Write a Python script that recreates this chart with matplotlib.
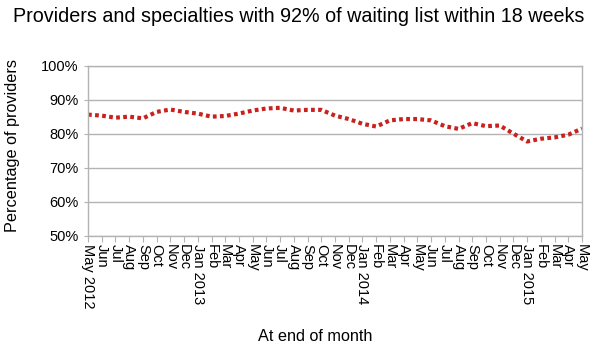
import numpy as np
import matplotlib
matplotlib.use('Agg')
import matplotlib.pyplot as plt
from matplotlib.ticker import FuncFormatter

plt.rcParams['font.family'] = ['Liberation Sans', 'DejaVu Sans']

# month labels, May 2012 .. May 2015
months = ['May 2012', 'Jun', 'Jul', 'Aug', 'Sep', 'Oct', 'Nov', 'Dec',
          'Jan 2013', 'Feb', 'Mar', 'Apr', 'May', 'Jun', 'Jul', 'Aug', 'Sep',
          'Oct', 'Nov', 'Dec', 'Jan 2014', 'Feb', 'Mar', 'Apr', 'May', 'Jun',
          'Jul', 'Aug', 'Sep', 'Oct', 'Nov', 'Dec', 'Jan 2015', 'Feb', 'Mar',
          'Apr', 'May']

# percentage of provider/specialty pairs meeting the 92% standard
pct_providers = [85.7, 85.4, 84.8, 85.1, 84.6, 86.5, 87.2, 86.5, 86.0, 85.1,
                 85.3, 86.0, 86.9, 87.5, 87.7, 86.9, 87.1, 87.1, 85.4, 84.4,
                 83.0, 82.2, 84.0, 84.4, 84.4, 84.0, 82.3, 81.5, 83.2, 82.3,
                 82.5, 80.1, 77.8, 78.6, 79.0, 79.8, 81.6]

yticks = [50, 60, 70, 80, 90, 100]

fig = plt.figure(figsize=(5.93, 3.47), dpi=100)
ax = fig.add_axes([0.1484, 0.3199, 0.8331, 0.4899])

x = np.arange(len(months))
ax.plot(x, pct_providers, color='#c9211e', linewidth=3.0,
        linestyle=(0, (0.9, 0.8)), dash_capstyle='butt')

ax.set_xlim(0, len(months) - 1)
ax.set_ylim(50, 100)
ax.set_yticks(yticks)
ax.yaxis.set_major_formatter(FuncFormatter(lambda v, p: '%d%%' % v))
ax.set_xticks(x)
ax.set_xticklabels(months, rotation=270, fontsize=10.5, va='top', ha='center')
ax.tick_params(axis='y', labelsize=10.5, length=3, color='#b3b3b3', pad=4)
ax.tick_params(axis='x', length=4, color='#b3b3b3', pad=2)

ax.grid(axis='y', color='#b3b3b3', linewidth=1)
ax.set_axisbelow(True)
for s in ax.spines.values():
    s.set_color('#b3b3b3')
    s.set_linewidth(1)

ax.set_ylabel('Percentage of providers', fontsize=11.7)
ax.set_xlabel('At end of month', fontsize=11.7)
ax.xaxis.set_label_coords(0.459, -0.55)
ax.yaxis.set_label_coords(-0.138, 0.53)

fig.suptitle('Providers and specialties with 92% of waiting list within 18 weeks',
             fontsize=14.2, x=0.503, y=0.98)

fig.savefig('out.png', dpi=100)
